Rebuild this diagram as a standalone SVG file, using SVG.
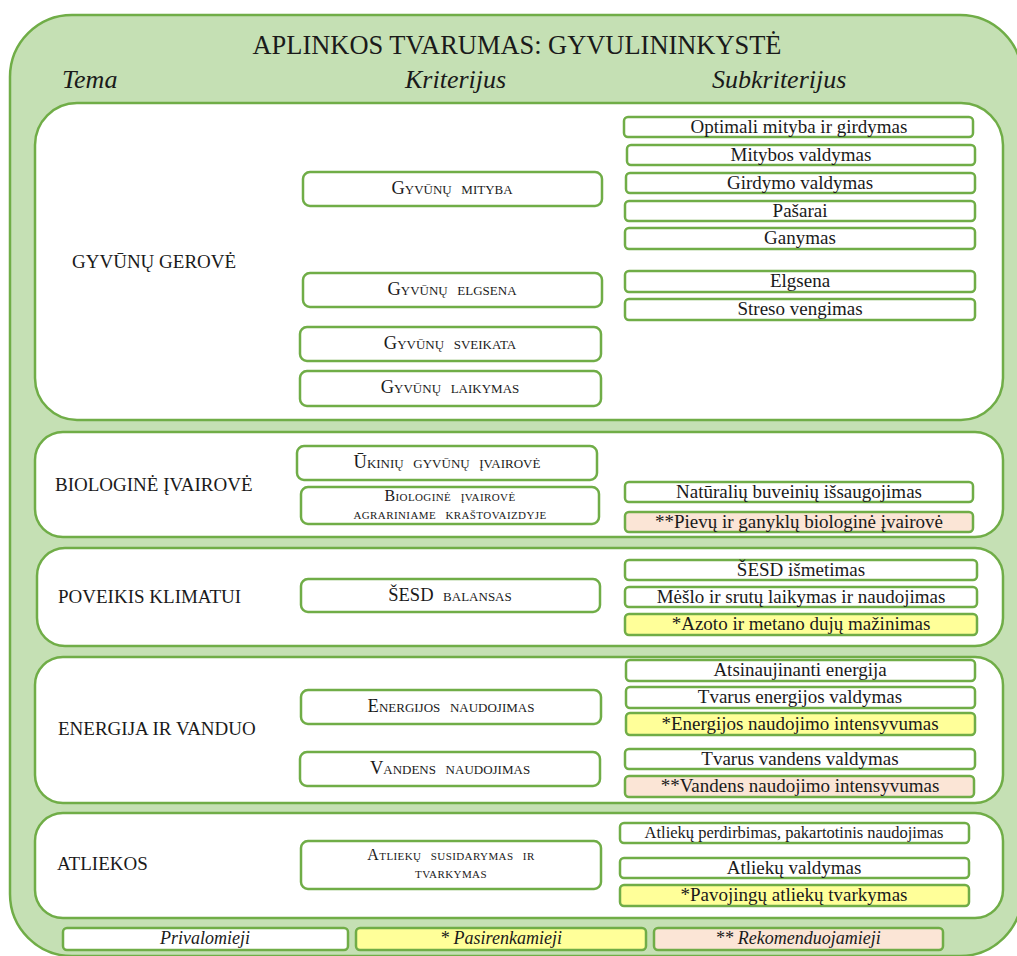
<svg xmlns="http://www.w3.org/2000/svg" width="1017" height="956" viewBox="0 0 1017 956" font-family="'Liberation Serif','Times New Roman','DejaVu Serif',serif">
<style>
.outer{fill:#C5E0B4;stroke:#70AD47;stroke-width:2.5}
.sec{fill:#FFFFFF;stroke:#70AD47;stroke-width:2.5}
.box{fill:#FFFFFF;stroke:#70AD47;stroke-width:2.5}
.y{fill:#FFFF99}
.p{fill:#FBE5D6}
text{font-family:'Liberation Serif','Times New Roman','DejaVu Serif',serif;fill:#1a1a1a}
.title{font-size:27px;text-anchor:middle}
.hdr{font-size:26px;font-style:italic}
.topic{font-size:19px}
.crit{font-size:18.5px;font-variant:small-caps;text-anchor:middle;word-spacing:5px}
.crit2{font-size:16px;font-variant:small-caps;text-anchor:middle;word-spacing:5px;letter-spacing:0.4px}
.sub{font-size:19px;text-anchor:middle}
.leg{font-size:18px;font-style:italic;text-anchor:middle}
</style>
<rect class="outer" x="10" y="15" width="1012" height="941" rx="62"/>
<text class="title" x="517" y="54" textLength="529" lengthAdjust="spacingAndGlyphs">APLINKOS TVARUMAS: GYVULININKYSTĖ</text>
<text class="hdr" x="62" y="88">Tema</text>
<text class="hdr" x="405" y="88">Kriterijus</text>
<text class="hdr" x="712" y="88">Subkriterijus</text>

<g id="sec-gerove">
<rect class="sec" x="35" y="103" width="968" height="317" rx="42"/>
<text class="topic" x="72" y="268">GYVŪNŲ GEROVĖ</text>
</g>
<g id="sec-bio">
<rect class="sec" x="35" y="432" width="968" height="105" rx="28"/>
<text class="topic" x="55" y="491">BIOLOGINĖ ĮVAIROVĖ</text>
</g>
<g id="sec-klimat">
<rect class="sec" x="37" y="548" width="966" height="98" rx="28"/>
<text class="topic" x="58" y="603">POVEIKIS KLIMATUI</text>
</g>
<g id="sec-energ">
<rect class="sec" x="35" y="657" width="968" height="146" rx="28"/>
<text class="topic" x="58" y="735">ENERGIJA IR VANDUO</text>
</g>
<g id="sec-atl">
<rect class="sec" x="35" y="813" width="968" height="105" rx="28"/>
<text class="topic" x="57" y="870">ATLIEKOS</text>
</g>

<g id="c-mityba"><rect class="box" x="303" y="172" width="299" height="34" rx="7"/><text class="crit" x="452" y="194">Gyvūnų mityba</text></g>
<g id="c-elgsena"><rect class="box" x="303" y="273" width="299" height="34" rx="7"/><text class="crit" x="452" y="295">Gyvūnų elgsena</text></g>
<g id="c-sveikata"><rect class="box" x="300" y="327" width="301" height="34" rx="7"/><text class="crit" x="450" y="349">Gyvūnų sveikata</text></g>
<g id="c-laikymas"><rect class="box" x="300" y="371" width="301" height="35" rx="7"/><text class="crit" x="450" y="393">Gyvūnų laikymas</text></g>
<g id="c-ukiniu"><rect class="box" x="297" y="446" width="300" height="34" rx="7"/><text class="crit" x="447" y="468">Ūkinių gyvūnų įvairovė</text></g>
<g id="c-biol"><rect class="box" x="301" y="487" width="298" height="37" rx="7"/><text class="crit2" x="450" y="501">Biologinė įvairovė</text><text class="crit2" x="450" y="519">agrariniame kraštovaizdyje</text></g>
<g id="c-sesd"><rect class="box" x="301" y="579" width="299" height="33" rx="7"/><text class="crit" x="450" y="601">ŠESD balansas</text></g>
<g id="c-energ"><rect class="box" x="301" y="690" width="300" height="34" rx="7"/><text class="crit" x="451" y="712">Energijos naudojimas</text></g>
<g id="c-vand"><rect class="box" x="300" y="752" width="300" height="34" rx="7"/><text class="crit" x="450" y="774">Vandens naudojimas</text></g>
<g id="c-atl"><rect class="box" x="301" y="841" width="300" height="48" rx="7"/><text class="crit2" x="451" y="860">Atliekų susidarymas ir</text><text class="crit2" x="451" y="878">tvarkymas</text></g>

<g id="s1"><rect class="box" x="624" y="117" width="349" height="20" rx="4"/><text class="sub" x="799" y="133">Optimali mityba ir girdymas</text></g>
<g id="s2"><rect class="box" x="627" y="145" width="348" height="20" rx="4"/><text class="sub" x="801" y="161">Mitybos valdymas</text></g>
<g id="s3"><rect class="box" x="626" y="173" width="349" height="20" rx="4"/><text class="sub" x="800" y="189">Girdymo valdymas</text></g>
<g id="s4"><rect class="box" x="625" y="201" width="350" height="20" rx="4"/><text class="sub" x="800" y="217">Pašarai</text></g>
<g id="s5"><rect class="box" x="625" y="228" width="350" height="21" rx="4"/><text class="sub" x="800" y="244">Ganymas</text></g>
<g id="s6"><rect class="box" x="625" y="271" width="350" height="21" rx="4"/><text class="sub" x="800" y="287">Elgsena</text></g>
<g id="s7"><rect class="box" x="625" y="299" width="350" height="21" rx="4"/><text class="sub" x="800" y="315">Streso vengimas</text></g>
<g id="s8"><rect class="box" x="625" y="482" width="348" height="20" rx="4"/><text class="sub" x="799" y="498">Natūralių buveinių išsaugojimas</text></g>
<g id="s9"><rect class="box p" x="625" y="512" width="348" height="20" rx="4"/><text class="sub" x="799" y="528">**Pievų ir ganyklų biologinė įvairovė</text></g>
<g id="s10"><rect class="box" x="625" y="560" width="352" height="20" rx="4"/><text class="sub" x="801" y="576">ŠESD išmetimas</text></g>
<g id="s11"><rect class="box" x="625" y="587" width="352" height="20" rx="4"/><text class="sub" x="801" y="603">Mėšlo ir srutų laikymas ir naudojimas</text></g>
<g id="s12"><rect class="box y" x="625" y="614" width="352" height="21" rx="4"/><text class="sub" x="801" y="630">*Azoto ir metano dujų mažinimas</text></g>
<g id="s13"><rect class="box" x="626" y="660" width="349" height="21" rx="4"/><text class="sub" x="800" y="676">Atsinaujinanti energija</text></g>
<g id="s14"><rect class="box" x="626" y="687" width="349" height="21" rx="4"/><text class="sub" x="800" y="703">Tvarus energijos valdymas</text></g>
<g id="s15"><rect class="box y" x="626" y="713" width="349" height="22" rx="4"/><text class="sub" x="800" y="730">*Energijos naudojimo intensyvumas</text></g>
<g id="s16"><rect class="box" x="625" y="749" width="350" height="20" rx="4"/><text class="sub" x="800" y="765">Tvarus vandens valdymas</text></g>
<g id="s17"><rect class="box p" x="625" y="776" width="349" height="21" rx="4"/><text class="sub" x="800" y="792">**Vandens naudojimo intensyvumas</text></g>
<g id="s18"><rect class="box" x="620" y="823" width="349" height="20" rx="4"/><text class="sub" x="794" y="838" style="font-size:16.5px">Atliekų perdirbimas, pakartotinis naudojimas</text></g>
<g id="s19"><rect class="box" x="620" y="858" width="349" height="20" rx="4"/><text class="sub" x="794" y="874">Atliekų valdymas</text></g>
<g id="s20"><rect class="box y" x="620" y="885" width="349" height="21" rx="4"/><text class="sub" x="794" y="901">*Pavojingų atliekų tvarkymas</text></g>

<g id="legend-priv"><rect class="box" x="63" y="928" width="285" height="22" rx="4"/><text class="leg" x="205" y="944">Privalomieji</text></g>
<g id="legend-pas"><rect class="box y" x="356" y="928" width="290" height="22" rx="4"/><text class="leg" x="501" y="944">* Pasirenkamieji</text></g>
<g id="legend-rek"><rect class="box p" x="654" y="928" width="289" height="22" rx="4"/><text class="leg" x="798" y="944">** Rekomenduojamieji</text></g>
<g id="connectors"/>
</svg>
